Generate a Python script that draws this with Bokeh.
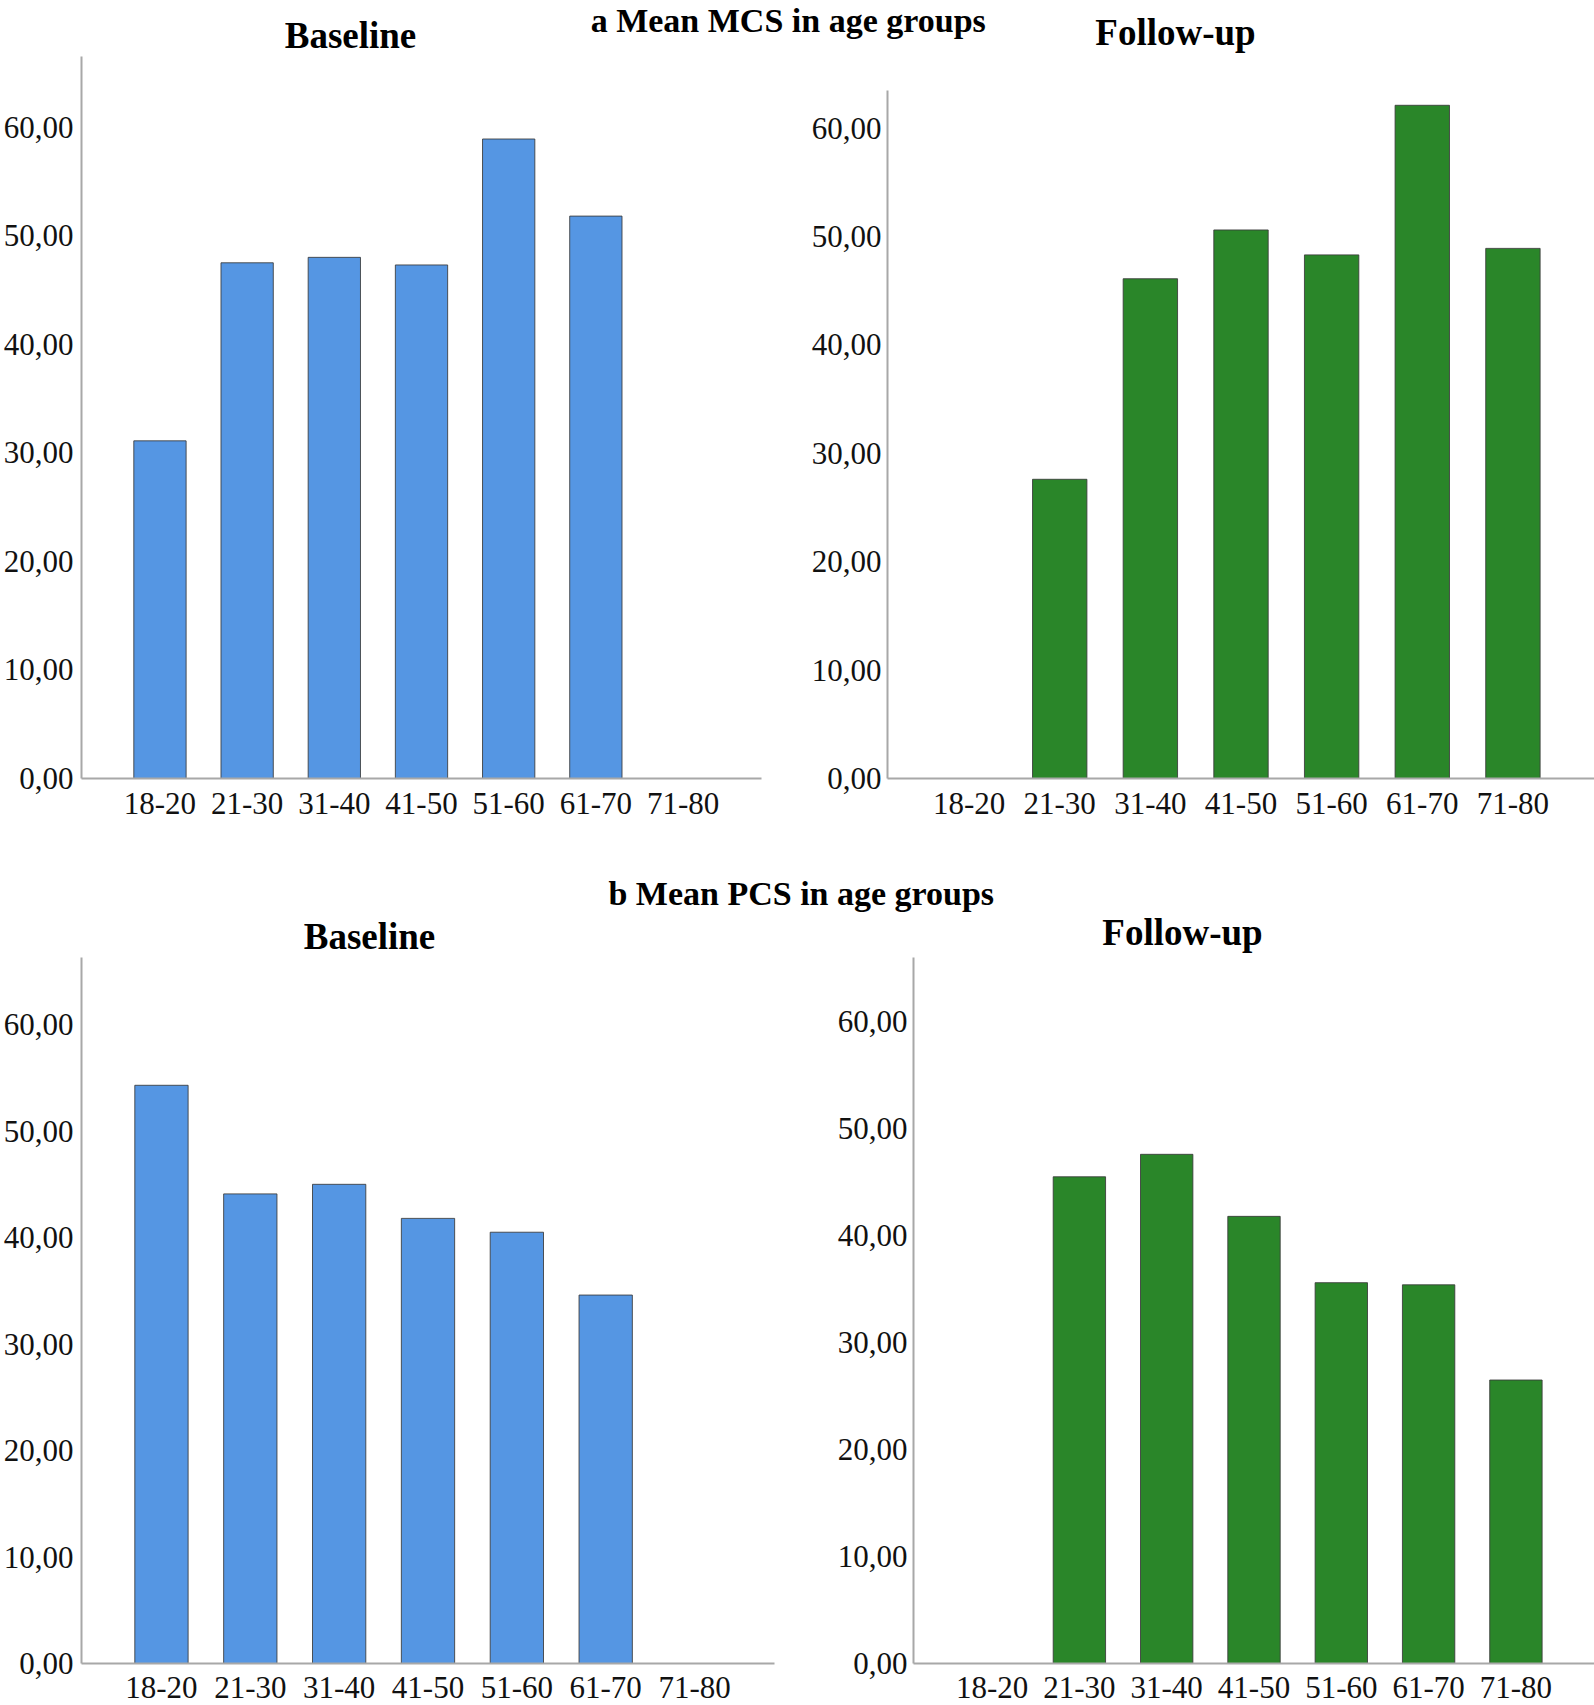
from bokeh.plotting import figure
from bokeh.layouts import column, row
from bokeh.models import FactorRange, Range1d, FixedTicker, ColumnDataSource
from bokeh.embed import file_html
from bokeh.resources import INLINE
from bokeh.core.properties import value

# ---------------- data ----------------
age_groups = ["18-20", "21-30", "31-40", "41-50", "51-60", "61-70", "71-80"]
mcs_baseline = [31.1, 47.5, 48.0, 47.3, 58.9, 51.8, None]
mcs_followup = [None, 27.6, 46.1, 50.6, 48.3, 62.1, 48.9]
pcs_baseline = [54.3, 44.1, 45.0, 41.8, 40.5, 34.6, None]
pcs_followup = [None, 45.5, 47.6, 41.8, 35.6, 35.4, 26.5]
y_ticks = [0, 10, 20, 30, 40, 50, 60]
y_tick_labels = ["0,00", "10,00", "20,00", "30,00", "40,00", "50,00", "60,00"]
section_titles = ["a  Mean MCS in age groups", "b  Mean PCS in age groups"]
panel_titles = ["Baseline", "Follow-up"]

# ---------------- style ----------------
BLUE = "#5596e3"
GREEN = "#2a8629"
FONT = "Liberation Serif"
AXIS_COLOR = "#a8a8a8"
TOTAL_W = 1594
LEFT_W = 808


def panel(values, color, y_end, axis_top, width, height, b_left, b_right, b_bottom,
          y_standoff, x_standoff):
    cats = [a for a, v in zip(age_groups, values) if v is not None]
    vals = [v for v in values if v is not None]
    src = ColumnDataSource(dict(age=cats, mean=vals))
    p = figure(
        x_range=FactorRange(factors=age_groups, range_padding=0.4, range_padding_units="absolute"),
        y_range=Range1d(0, y_end),
        width=width, height=height, title=None,
        output_backend="svg", toolbar_location=None,
        min_border_left=b_left, min_border_right=b_right,
        min_border_top=0, min_border_bottom=b_bottom,
    )
    p.vbar(x="age", top="mean", width=0.6, source=src,
           fill_color=color, line_color="#3a3a3a", line_alpha=0.85, line_width=1)
    p.grid.visible = False
    p.outline_line_color = None
    p.background_fill_color = None
    p.border_fill_color = None

    ya = p.yaxis[0]
    ya.ticker = FixedTicker(ticks=y_ticks)
    ya.major_label_overrides = {t: lab for t, lab in zip(y_ticks, y_tick_labels)}
    ya.bounds = (0, axis_top)
    xa = p.xaxis[0]
    for ax, standoff in ((ya, y_standoff), (xa, x_standoff)):
        ax.axis_line_color = AXIS_COLOR
        ax.axis_line_width = 2
        ax.major_tick_line_color = None
        ax.minor_tick_line_color = None
        ax.major_tick_out = 0
        ax.major_tick_in = 0
        ax.minor_tick_out = 0
        ax.major_label_text_font = FONT
        ax.major_label_text_font_size = "31px"
        ax.major_label_text_color = "#111111"
        ax.major_label_standoff = standoff
    return p


def strip(height, page_top, section, sec_xy, titles, title_xy):
    # y range runs in page pixels (top of strip = page_top) so texts sit where they belong
    s = figure(width=TOTAL_W, height=height,
               x_range=Range1d(0, TOTAL_W),
               y_range=Range1d(page_top + height, page_top),
               x_axis_type=None, y_axis_type=None, title=None,
               min_border=0, output_backend="svg", toolbar_location=None)
    s.grid.visible = False
    s.outline_line_color = None
    s.background_fill_color = None
    s.border_fill_color = None
    s.text(x=[sec_xy[0]], y=[sec_xy[1] - 0.3375 * 34], text=[section],
           text_font=value(FONT), text_font_style="bold", text_font_size="34px",
           text_color="#000000", text_align="center", text_baseline="middle")
    s.text(x=[xy[0] for xy in title_xy], y=[xy[1] - 0.3375 * 37 for xy in title_xy], text=titles,
           text_font=value(FONT), text_font_style="bold", text_font_size="37px",
           text_color="#000000", text_align="center", text_baseline="middle")
    return s


# row a: page y 56 .. 850 ; frames from 56 to 778
strip_a = strip(56, 0, section_titles[0], (792, 31),
                panel_titles, [(350, 47), (1175, 44)])
p1 = panel(mcs_baseline, BLUE, 66.5, 66.5, LEFT_W, 794, 80, 47, 72, 8, 14)
p2 = panel(mcs_followup, GREEN, 66.6, 63.5, TOTAL_W - LEFT_W, 794, 77, 0, 72, 6, 14)

# row b: page y 957 .. 1705 ; frames from 957 to 1663
strip_b = strip(107, 850, section_titles[1], (805, 904),
                panel_titles, [(369, 948), (1182, 944)])
p3 = panel(pcs_baseline, BLUE, 66.3, 66.3, LEFT_W, 748, 80, 34, 42, 8, 13)
p4 = panel(pcs_followup, GREEN, 66.0, 66.0, TOTAL_W - LEFT_W, 748, 105, 0, 42, 6, 13)

layout = column(strip_a, row(p1, p2), strip_b, row(p3, p4))

open("out.html", "w").write(file_html(layout, INLINE))
